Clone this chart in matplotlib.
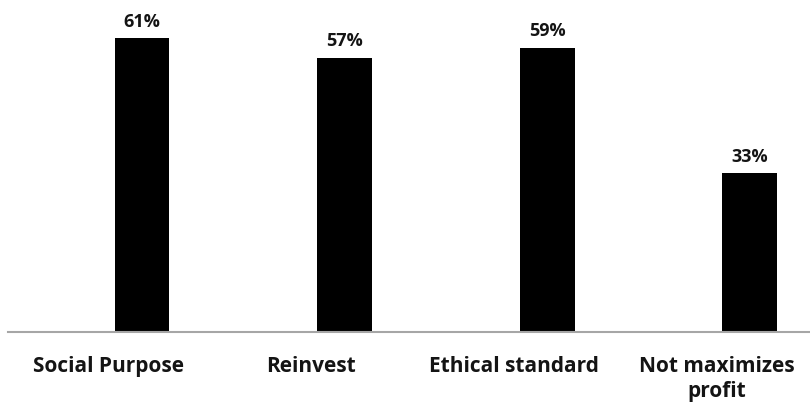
import numpy as np
import matplotlib
matplotlib.use('Agg')
import matplotlib.pyplot as plt

# Chart data
categories = ['Social Purpose', 'Reinvest', 'Ethical standard', 'Not maximizes\nprofit']
values = [61, 57, 59, 33]

plt.rcParams['font.family'] = ['Open Sans', 'DejaVu Sans']

fig = plt.figure(figsize=(8.1, 4.07), dpi=100)
ax = fig.add_axes([8/810, 75/407, 1 - 8/810, 332/407])

x = np.arange(len(categories))
bars = ax.bar(x, values, width=0.27, color='black', zorder=2)

# value labels above bars
for xi, v in zip(x, values):
    ax.text(xi, v + 1.6, '%d%%' % v, ha='center', va='bottom',
            fontsize=13, fontweight='bold', color='#141414')

ax.set_xlim(-0.661, 3.297)
ax.set_ylim(0, 69.0)

# only the bottom axis line stays
for side in ['top', 'right', 'left']:
    ax.spines[side].set_visible(False)
ax.spines['bottom'].set_color('#a6a6a6')
ax.spines['bottom'].set_linewidth(1.5)
ax.set_yticks([])
# category labels sit a bit left of their bars, as in the source
ax.set_xticks(x - 0.165)
ax.set_xticklabels(categories, fontsize=15, fontweight='bold', color='#141414',
                   linespacing=1.3)
ax.tick_params(axis='x', length=0, pad=17)

fig.savefig('out.png', dpi=100)
